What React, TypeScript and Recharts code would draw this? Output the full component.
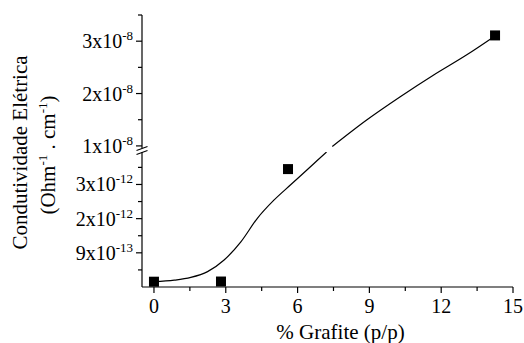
import React from "react";
import { ComposedChart, Line, Scatter, XAxis, YAxis } from "recharts";

// % grafite (x) vs condutividade; eixo y quebrado em dois trechos
const lowPointX = [0, 2.8, 5.6];
const lowPointY = [1.55e-13, 1.6e-13, 3.45e-12];
const highPointX = [14.25];
const highPointY = [3.11e-8];

// curva ajustada
const curveLowX = [0, 0.85, 1.54, 2.24, 2.93, 3.63, 4.32, 5.01, 5.71, 6.4, 6.82, 7.21];
const curveLowY = [0.155, 0.2, 0.28, 0.45, 0.79, 1.32, 2.01, 2.54, 2.99, 3.43, 3.7, 3.95].map((v) => v * 1e-12);
const curveHighX = [7.45, 8.9, 10.29, 11.67, 13.07, 14.25];
const curveHighY = [0.99, 1.5, 1.94, 2.35, 2.74, 3.1].map((v) => v * 1e-8);

const xTicks = [0, 1.5, 3, 4.5, 6, 7.5, 9, 10.5, 12, 13.5, 15];
const xMajor = [0, 3, 6, 9, 12, 15];

const yLowTicks = [0.5e-12, 1e-12, 1.5e-12, 2e-12, 2.5e-12, 3e-12, 3.5e-12];
const yLowMajor = [1e-12, 2e-12, 3e-12];
const yLowMant = ["9x10", "2x10", "3x10"];
const yLowExp = ["-13", "-12", "-12"];

const yHighTicks = [1e-8, 1.5e-8, 2e-8, 2.5e-8, 3e-8, 3.5e-8];
const yHighMajor = [1e-8, 2e-8, 3e-8];
const yHighMant = ["1x10", "2x10", "3x10"];
const yHighExp = ["-8", "-8", "-8"];

const FONT = "Liberation Serif, DejaVu Serif, serif";
const txt = { fontFamily: FONT, fill: "#000" };

const zip = (xs: number[], ys: number[]) => xs.map((x, i) => ({ x, y: ys[i] }));

const lowPoints = zip(lowPointX, lowPointY);
const highPoints = zip(highPointX, highPointY);
const curveLow = zip(curveLowX, curveLowY);
const curveHigh = zip(curveHighX, curveHighY);

const makeYTick = (major: number[], mant: string[], expo: string[]) => (props: any) => {
  const { x, y, payload } = props;
  const i = major.findIndex((v) => Math.abs(v - payload.value) < Math.abs(v) * 1e-6);
  const len = i >= 0 ? 6 : 4;
  return (
    <g>
      <line x1={x} y1={y} x2={x - len} y2={y} stroke="#000" strokeWidth={1.2} />
      {i >= 0 && (
        <text x={x - 9} y={y + 7} textAnchor="end" style={{ ...txt, fontSize: 20 }}>
          {mant[i]}
          <tspan dy={-8} style={{ fontSize: 13 }}>
            {expo[i]}
          </tspan>
        </text>
      )}
    </g>
  );
};

const XTick = (props: any) => {
  const { x, y, payload } = props;
  const major = xMajor.includes(payload.value);
  return (
    <g>
      <line x1={x} y1={y} x2={x} y2={y + (major ? 6 : 4)} stroke="#000" strokeWidth={1.2} />
      {major && (
        <text x={x} y={y + 26} textAnchor="middle" style={{ ...txt, fontSize: 20 }}>
          {payload.value}
        </text>
      )}
    </g>
  );
};

const square = (props: any) => {
  const { cx, cy } = props;
  return <rect x={cx - 5} y={cy - 5} width={10} height={10} fill="#000" />;
};

export default function App() {
  return (
    <div style={{ position: "absolute", left: 0, top: 0, width: 524, height: 343, background: "#fff" }}>
      <div style={{ position: "absolute", left: 0, top: 152 }}>
        <ComposedChart width={524} height={191} margin={{ top: 0, right: 11, bottom: 0, left: 0 }}>
          <XAxis
            type="number"
            dataKey="x"
            domain={[-0.5, 15]}
            ticks={xTicks}
            interval={0}
            height={56}
            allowDataOverflow
            tickSize={0}
            tickMargin={0}
            tickLine={false}
            axisLine={{ stroke: "#000", strokeWidth: 1.2 }}
            tick={XTick}
            label={{
              value: "% Grafite (p/p)",
              position: "insideBottom",
              offset: 4,
              dx: 13,
              style: { ...txt, fontSize: 21 },
            }}
          />
          <YAxis
            type="number"
            dataKey="y"
            width={142}
            domain={[0, 3.95e-12]}
            ticks={yLowTicks}
            interval={0}
            allowDataOverflow
            tickSize={0}
            tickMargin={0}
            tickLine={false}
            axisLine={{ stroke: "#000", strokeWidth: 1.2 }}
            tick={makeYTick(yLowMajor, yLowMant, yLowExp)}
          />
          <Line data={curveLow} dataKey="y" type="monotone" stroke="#000" strokeWidth={1.2} dot={false} isAnimationActive={false} />
          <Scatter data={lowPoints} dataKey="y" shape={square} isAnimationActive={false} />
        </ComposedChart>
      </div>
      <div style={{ position: "absolute", left: 0, top: 0 }}>
        <ComposedChart width={524} height={165} margin={{ top: 15, right: 11, bottom: 17, left: 0 }}>
          <XAxis type="number" dataKey="x" domain={[-0.5, 15]} hide allowDataOverflow />
          <YAxis
            type="number"
            dataKey="y"
            width={142}
            domain={[0.96e-8, 3.5e-8]}
            ticks={yHighTicks}
            interval={0}
            allowDataOverflow
            tickSize={0}
            tickMargin={0}
            tickLine={false}
            axisLine={{ stroke: "#000", strokeWidth: 1.2 }}
            tick={makeYTick(yHighMajor, yHighMant, yHighExp)}
          />
          <Line data={curveHigh} dataKey="y" type="monotone" stroke="#000" strokeWidth={1.2} dot={false} isAnimationActive={false} />
          <Scatter data={highPoints} dataKey="y" shape={square} isAnimationActive={false} />
        </ComposedChart>
      </div>
      <svg width={524} height={343} style={{ position: "absolute", left: 0, top: 0, pointerEvents: "none" }}>
        <line x1={136.5} y1={150.5} x2={147.5} y2={146.5} stroke="#000" strokeWidth={1.2} />
        <line x1={136.5} y1={154.5} x2={147.5} y2={150.5} stroke="#000" strokeWidth={1.2} />
        <text x={27} y={152.5} transform="rotate(-90 27 152.5)" textAnchor="middle" style={{ ...txt, fontSize: 21 }}>
          Condutividade Elétrica
        </text>
        <text x={54.5} y={155} transform="rotate(-90 54.5 155)" textAnchor="middle" style={{ ...txt, fontSize: 21 }}>
          (Ohm
          <tspan dy={-8} style={{ fontSize: 13 }}>-1</tspan>
          <tspan dy={8}> . cm</tspan>
          <tspan dy={-8} style={{ fontSize: 13 }}>-1</tspan>
          <tspan dy={8}>)</tspan>
        </text>
      </svg>
    </div>
  );
}
